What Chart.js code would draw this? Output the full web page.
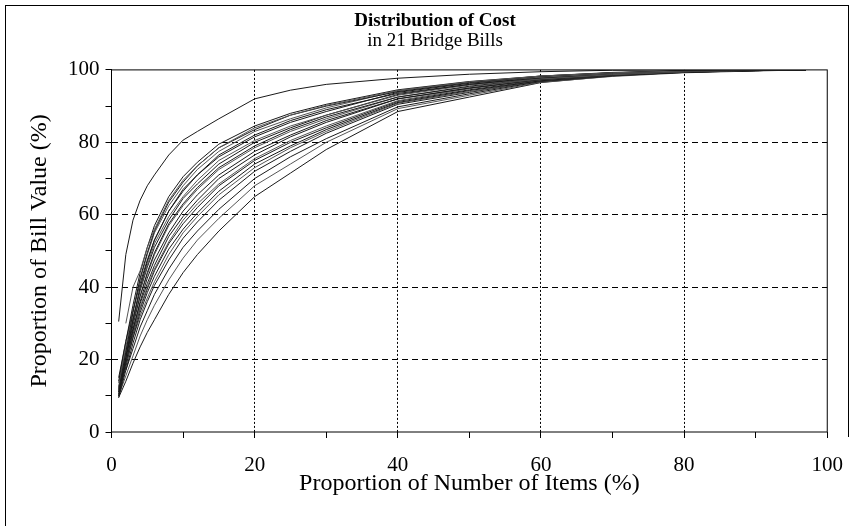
<!DOCTYPE html>
<html>
<head>
<meta charset="utf-8">
<script src="https://cdn.jsdelivr.net/npm/chart.js@4.4.1/dist/chart.umd.min.js"></script>
<style>
  html, body { margin: 0; padding: 0; background: #fff; }
  #wrap { position: relative; width: 860px; height: 526px; }
  #frame { position: absolute; left: 5px; top: 5px; width: 842px; height: 530px;
           border-left: 1px solid #000; border-top: 1px solid #000; }
  #frameR { position: absolute; left: 848px; top: 5px; width: 0; height: 432px;
            border-left: 1px solid #000; }
  canvas { position: absolute; left: 0; top: 0; }
</style>
</head>
<body>
<div id="wrap">
  <div id="frame"></div>
  <div id="frameR"></div>
  <canvas id="cost" width="860" height="526"></canvas>
</div>
<script>
// proportion of number of items (%), shared by all bills
var itemPct = [1, 2, 3, 4, 5, 6, 8, 10, 12, 15, 20, 25, 30, 40, 50, 60, 70, 80, 90, 97];

// proportion of bill value (%), one array per bill
var bill1  = [30.5, 49, 58.5, 64, 68, 71, 76.5, 80.6, 83, 86.5, 92, 94.4, 96, 97.7, 98.8, 99.5, 99.9, 100, 100, 100];
var bill2  = [null, 30, 40, 44.5, 51, 56, 64, 69.5, 73.5, 78.5, 84, 87.5, 90.2, 94.3, 96.7, 98.3, 99.2, 99.7, 99.9, 100];
var bill3  = [14, 25, 35, 44, 51, 57, 65, 70.5, 74.5, 79.5, 84.5, 88, 90.5, 94.5, 96.8, 98.3, 99.2, 99.7, 99.9, 100];
var bill4  = [11.5, 22, 33, 42.5, 49.5, 55.5, 63.5, 69, 73.5, 78.5, 83.5, 87.5, 90, 94, 96.5, 98.3, 99.3, 99.8, 100, 100];
var bill5  = [12.5, 23.5, 33.5, 42, 49, 55, 62.5, 68, 72.5, 77.5, 83, 86.5, 89.5, 94.2, 96.6, 98, 99, 99.6, 99.9, 100];
var bill6  = [15, 25, 33.5, 41, 47.5, 53, 61, 67, 71, 76.5, 82, 86, 89, 93.5, 96, 97.8, 99, 99.6, 99.9, 100];
var bill7  = [10.5, 20.5, 31, 40, 47, 53, 61, 66.5, 71, 76, 81.5, 85.5, 88.5, 93.8, 96.3, 98.1, 99.2, 99.8, 100, 100];
var bill8  = [12, 22, 31.5, 39.5, 46, 52, 59.5, 65, 69.5, 75, 80.5, 84.5, 87.5, 93, 95.8, 97.6, 98.8, 99.5, 99.9, 100];
var bill9  = [null, 21, 31, 39, 45.5, 51, 58.5, 64.5, 68.5, 74, 80, 84, 87.5, 93.2, 96, 98, 99.1, 99.7, 99.9, 100];
var bill10 = [11, 20.5, 29.5, 37.5, 44, 49.5, 57.5, 63, 67.5, 73, 79, 83.5, 87, 92.5, 95.5, 97.7, 98.9, 99.6, 99.9, 100];
var bill11 = [13.5, 22.5, 30.5, 37.5, 43.5, 49, 57, 62.5, 67, 72.5, 78.5, 83, 86.5, 92.5, 95.3, 97.5, 98.7, 99.5, 99.9, 100];
var bill12 = [10, 19, 28, 36, 42.5, 47.5, 55, 61, 65.5, 71, 77.5, 82, 86, 92, 95, 97.4, 98.7, 99.5, 99.9, 100];
var bill13 = [12, 20.5, 28.5, 35.5, 41, 46, 54, 59.5, 64, 70, 76.5, 81.5, 85.5, 92, 95, 97.4, 98.6, 99.4, 99.8, 100];
var bill14 = [null, 19, 27.5, 34.5, 40, 45, 52.5, 58.5, 63, 68.5, 75.5, 80.5, 84.5, 91.5, 94.8, 97.3, 98.6, 99.5, 99.9, 100];
var bill15 = [11, 19, 27, 34, 39.5, 44.5, 52, 57.5, 62, 68, 75, 80, 84, 91.3, 94.5, 97.2, 98.6, 99.4, 99.8, 100];
var bill16 = [10, 18, 26, 33, 38.5, 43, 50.5, 56, 60.5, 66.5, 74, 79, 83.5, 91, 94.3, 97, 98.5, 99.3, 99.8, 100];
var bill17 = [12.5, 19.5, 26, 32, 37, 41.5, 49, 55, 59.5, 65.5, 73, 78.5, 83, 90.8, 94, 97, 98.5, 99.4, 99.8, 100];
var bill18 = [9.5, 17, 24.5, 31, 36, 40.5, 47.5, 53.5, 58, 64, 72, 77.5, 82.5, 90.5, 93.8, 96.9, 98.4, 99.3, 99.8, 100];
var bill19 = [null, 17, 23, 29, 33.5, 38, 45, 51, 55.5, 61.5, 70, 76, 81, 89.8, 93.4, 96.8, 98.4, 99.4, 99.8, 100];
var bill20 = [10, 15.5, 21, 26.5, 31, 35, 42, 48, 53, 59, 68, 74, 80, 89.3, 93, 96.6, 98.2, 99.2, 99.7, 100];
var bill21 = [9.5, 14, 19, 23.5, 27.5, 31, 38, 44, 49, 55.5, 65, 71.5, 78, 88.5, 92.5, 96.5, 98.3, 99.4, 99.8, 100];

var bills = [bill1, bill2, bill3, bill4, bill5, bill6, bill7, bill8, bill9, bill10, bill11,
             bill12, bill13, bill14, bill15, bill16, bill17, bill18, bill19, bill20, bill21];

var serif = "'Liberation Serif', 'Times New Roman', serif";

var datasets = [];
for (var i = 0; i < bills.length; i++) {
  var pts = [];
  for (var j = 0; j < itemPct.length; j++) {
    if (bills[i][j] != null) pts.push({x: itemPct[j], y: bills[i][j]});
  }
  datasets.push({
    label: "Bill " + (i + 1),
    data: pts,
    borderColor: i % 3 == 1 ? "#555" : "#1a1a1a",
    borderWidth: 1,
    pointRadius: 0,
    tension: 0,
    fill: false
  });
}

// box round the plot area
var frameBox = {
  id: "frameBox",
  afterDatasetsDraw: function(chart) {
    var a = chart.chartArea, c = chart.ctx;
    c.save();
    c.strokeStyle = "#000";
    c.lineWidth = 1;
    c.strokeRect(a.left, a.top, a.right - a.left, a.bottom - a.top);
    c.restore();
  }
};

function gridColor(ctx) {
  var v = ctx.tick ? ctx.tick.value : 0;
  return (v % 20 == 0 && v > 0 && v < 100) ? "#000" : "rgba(0,0,0,0)";
}
function majorLabel(v) { return v % 20 == 0 ? v : ""; }

var ctx = document.getElementById("cost");
var chart = new Chart(ctx, {
  type: "line",
  data: { datasets: datasets },
  plugins: [frameBox],
  options: {
    responsive: false,
    animation: false,
    layout: { padding: { left: 28, right: 18, top: 0, bottom: 30 } },
    plugins: {
      legend: { display: false },
      tooltip: { enabled: false },
      title: {
        display: true,
        text: "Distribution of Cost",
        color: "#000",
        font: { family: serif, size: 19, weight: "bold", lineHeight: 1.05 },
        padding: { top: 11, bottom: 0 }
      },
      subtitle: {
        display: true,
        text: "in 21 Bridge Bills",
        color: "#000",
        font: { family: serif, size: 19, lineHeight: 1.05 },
        padding: { top: 0, bottom: 19 }
      }
    },
    scales: {
      x: {
        type: "linear",
        min: 0, max: 100,
        border: { display: false, dash: [2, 2] },
        grid: { color: gridColor, tickColor: "#000", tickLength: 6, lineWidth: 1 },
        ticks: { stepSize: 10, autoSkip: false, maxRotation: 0, color: "#000", padding: 17,
                 font: { family: serif, size: 21, lineHeight: 1 }, callback: majorLabel },
        title: { display: true, text: "Proportion of Number of Items (%)", color: "#000",
                 font: { family: serif, size: 24, lineHeight: 1 }, padding: { top: -21, bottom: 0 } }
      },
      y: {
        type: "linear",
        min: 0, max: 100,
        border: { display: false, dash: [6, 4] },
        grid: { color: gridColor, tickColor: "#000", tickLength: 6, lineWidth: 1 },
        ticks: { stepSize: 10, autoSkip: false, color: "#000", padding: 6,
                 font: { family: serif, size: 21, lineHeight: 1 }, callback: majorLabel },
        title: { display: true, text: "Proportion of Bill Value (%)", color: "#000",
                 font: { family: serif, size: 24, lineHeight: 1 }, padding: { top: 0, bottom: 10 } }
      }
    }
  }
});
</script>
</body>
</html>
